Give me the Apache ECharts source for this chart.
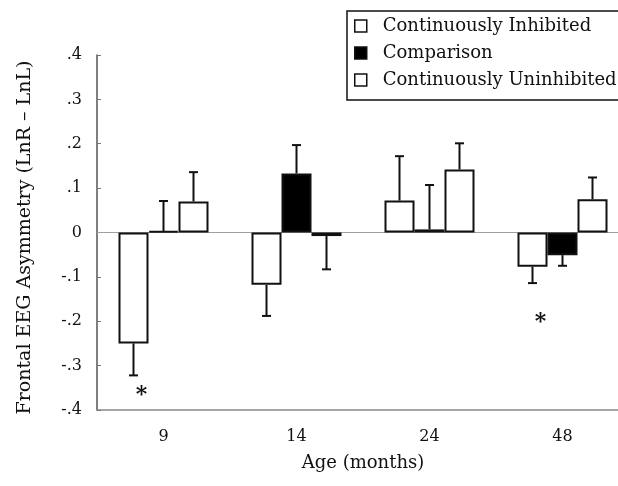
<!DOCTYPE html>
<html><head><meta charset="utf-8">
<script src="https://cdn.jsdelivr.net/npm/echarts@6/dist/echarts.min.js"></script>
<style>html,body{margin:0;padding:0;background:#fff}#c{width:618px;height:486px}</style>
</head><body><div id="c"></div>
<script>
const categories = ['9', '14', '24', '48'];
const seriesNames = ['Continuously Inhibited', 'Comparison', 'Continuously Uninhibited'];
const inhibited = [-0.250, -0.118, 0.072, -0.077];
const inhibitedErr = [0.072, 0.070, 0.100, 0.037];
const comparison = [0.003, 0.133, 0.007, -0.051];
const comparisonErr = [0.068, 0.064, 0.100, 0.024];
const uninhibited = [0.070, -0.008, 0.142, 0.075];
const uninhibitedErr = [0.066, 0.075, 0.059, 0.049];
const yTicks = [-0.4, -0.3, -0.2, -0.1, 0, 0.1, 0.2, 0.3, 0.4];
const asteriskPoints = [['9', -0.357], ['48', -0.193]];
const xTitle = 'Age (months)';
const yTitle = 'Frontal EEG Asymmetry (LnR \u2013 LnL)';

const FONT = 'DejaVu Serif';
const BAR_W = 30;
const values = [inhibited, comparison, uninhibited];
const errs = [inhibitedErr, comparisonErr, uninhibitedErr];
const fills = ['#ffffff', '#000000', '#ffffff'];

function fmtTick(v) {
  const r = Math.round(v * 10) / 10;
  if (r === 0) return '0';
  return (r < 0 ? '-' : '') + '.' + Math.round(Math.abs(r) * 10);
}

function errRenderer(offset) {
  return function (params, api) {
    const c = api.value(0), v = api.value(1), e = api.value(2);
    const end = v >= 0 ? v + e : v - e;
    const p0 = api.coord([c, v]);
    const p1 = api.coord([c, end]);
    const x = p0[0] + offset;
    return {
      type: 'group',
      children: [
        { type: 'line', shape: { x1: x, y1: p0[1], x2: x, y2: p1[1] }, style: { stroke: '#111', lineWidth: 2 } },
        { type: 'line', shape: { x1: x - 4.5, y1: p1[1], x2: x + 4.5, y2: p1[1] }, style: { stroke: '#111', lineWidth: 2 } }
      ]
    };
  };
}

const series = [];
seriesNames.forEach((name, i) => {
  const s = {
    name: name,
    type: 'bar',
    barWidth: BAR_W,
    barGap: '0%',
    data: values[i],
    itemStyle: { color: fills[i], borderColor: '#111', borderWidth: 2 },
    z: 3
  };
  if (i === 0) {
    s.markLine = {
      silent: true, symbol: 'none', label: { show: false },
      lineStyle: { color: '#a0a0a0', width: 1, type: 'solid' },
      data: [{ yAxis: 0 }], z: 1
    };
    s.markPoint = {
      symbol: 'rect', symbolSize: 1, itemStyle: { color: 'rgba(0,0,0,0)' },
      label: { show: true, position: 'inside', formatter: '*', color: '#111', fontSize: 22, fontFamily: FONT, fontWeight: 'bold', offset: [8, 4] },
      data: asteriskPoints.map(p => ({ coord: p }))
    };
  }
  series.push(s);
});
seriesNames.forEach((name, i) => {
  series.push({
    type: 'custom',
    name: name + ' err',
    renderItem: errRenderer((i - 1) * BAR_W),
    data: values[i].map((v, k) => [k, v, errs[i][k]]),
    z: 4,
    silent: true
  });
});

const chart = echarts.init(document.getElementById('c'), null, { renderer: 'canvas' });
chart.setOption({
  animation: false,
  backgroundColor: '#fff',
  grid: { left: 97, width: 532, top: 55, height: 355, containLabel: false, outerBoundsMode: 'none' },
  legend: {
    data: seriesNames,
    orient: 'vertical',
    left: 347, top: 11,
    padding: [6, 4, 11, 7],
    itemGap: 9,
    itemWidth: 12, itemHeight: 12,
    icon: 'rect',
    borderColor: '#111', borderWidth: 1.5,
    itemStyle: { borderColor: '#111', borderWidth: 1.5 },
    textStyle: { fontFamily: FONT, fontSize: 18, color: '#111', lineHeight: 17, padding: [0, 0, 0, 11] }
  },
  xAxis: {
    type: 'category',
    data: categories,
    axisLine: { onZero: false, lineStyle: { color: '#8a8a8a', width: 1.5 } },
    axisTick: { show: false },
    axisLabel: { fontFamily: FONT, fontSize: 16, color: '#111', margin: 19 },
    name: xTitle,
    nameLocation: 'middle',
    nameGap: 44,
    nameTextStyle: { fontFamily: FONT, fontSize: 18, color: '#111' }
  },
  yAxis: {
    type: 'value',
    min: yTicks[0], max: yTicks[yTicks.length - 1], interval: 0.1,
    axisLine: { show: true, lineStyle: { color: '#555', width: 1.5 } },
    axisTick: { show: true, inside: true, length: 4, lineStyle: { color: '#777' } },
    splitLine: { show: false },
    axisLabel: { fontFamily: FONT, fontSize: 16, color: '#111', margin: 15, formatter: fmtTick },
    name: yTitle,
    nameLocation: 'middle',
    nameGap: 62,
    nameTextStyle: { fontFamily: FONT, fontSize: 19, color: '#111', padding: [0, 10, 0, 0] }
  },
  series: series
});
</script>
</body></html>
